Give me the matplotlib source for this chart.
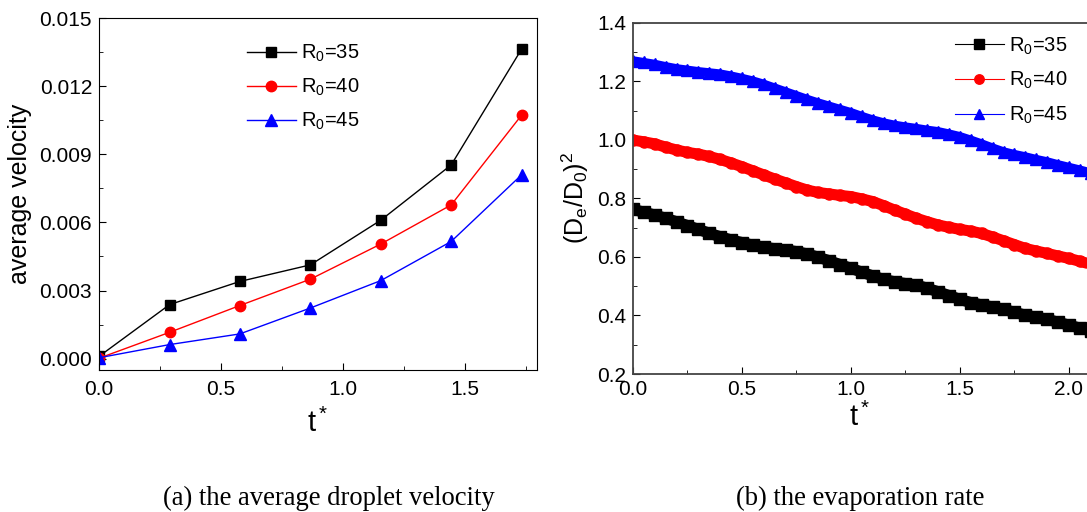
import matplotlib
matplotlib.use("Agg")
import matplotlib.pyplot as plt
from matplotlib.ticker import MultipleLocator, FormatStrFormatter

plt.rcParams['font.family'] = ['Liberation Sans', 'DejaVu Sans']
plt.rcParams['mathtext.fontset'] = 'custom'
plt.rcParams['mathtext.rm'] = 'Liberation Sans'
plt.rcParams['mathtext.it'] = 'Liberation Sans:italic'

# (a) average droplet velocity
t_vel = [0.0, 0.289, 0.577, 0.866, 1.155, 1.443, 1.732]
vel_35 = [0.0001, 0.00238, 0.0034, 0.00413, 0.0061, 0.00853, 0.01364]
vel_40 = [0.00002, 0.00116, 0.00234, 0.0035, 0.00505, 0.00677, 0.01073]
vel_45 = [0.00004, 0.00062, 0.00109, 0.00223, 0.00344, 0.00516, 0.0081]

# (b) evaporation rate, read every 0.05 of t*
t_evap = [0.00, 0.05, 0.10, 0.15, 0.20, 0.25, 0.30, 0.35, 0.40, 0.45,
          0.50, 0.55, 0.60, 0.65, 0.70, 0.75, 0.80, 0.85, 0.90, 0.95,
          1.00, 1.05, 1.10, 1.15, 1.20, 1.25, 1.30, 1.35, 1.40, 1.45,
          1.50, 1.55, 1.60, 1.65, 1.70, 1.75, 1.80, 1.85, 1.90, 1.95,
          2.00, 2.05, 2.10]
d2_35 = [0.762, 0.753, 0.743, 0.732, 0.720, 0.707, 0.694, 0.681, 0.669, 0.658,
         0.649, 0.640, 0.633, 0.628, 0.624, 0.618, 0.610, 0.599, 0.587, 0.574,
         0.561, 0.548, 0.535, 0.523, 0.515, 0.509, 0.504, 0.493, 0.481, 0.468,
         0.455, 0.444, 0.436, 0.429, 0.421, 0.411, 0.401, 0.394, 0.387, 0.377,
         0.367, 0.357, 0.347]
d2_40 = [0.999, 0.993, 0.986, 0.975, 0.965, 0.957, 0.951, 0.943, 0.933, 0.921,
         0.908, 0.894, 0.880, 0.866, 0.853, 0.840, 0.828, 0.820, 0.815, 0.810,
         0.806, 0.798, 0.789, 0.775, 0.760, 0.746, 0.732, 0.720, 0.709, 0.701,
         0.694, 0.688, 0.680, 0.668, 0.655, 0.642, 0.629, 0.620, 0.612, 0.603,
         0.595, 0.585, 0.575]
d2_45 = [1.270, 1.264, 1.258, 1.250, 1.243, 1.238, 1.233, 1.229, 1.225, 1.218,
         1.210, 1.201, 1.190, 1.177, 1.164, 1.151, 1.138, 1.126, 1.115, 1.104,
         1.093, 1.080, 1.068, 1.058, 1.050, 1.044, 1.039, 1.033, 1.028, 1.020,
         1.011, 0.999, 0.986, 0.972, 0.959, 0.950, 0.942, 0.933, 0.925, 0.915,
         0.906, 0.897, 0.887]

labels = ["R$_0$=35", "R$_0$=40", "R$_0$=45"]
colors = ["black", "red", "blue"]
markers = ["s", "o", "^"]

fig = plt.figure(figsize=(10.87, 5.12), dpi=100)
ax1 = fig.add_axes([0.0911, 0.2773, 0.403, 0.6875])
ax2 = fig.add_axes([0.5823, 0.2695, 0.4177, 0.6862])

# --- left panel ---
for ys, c, m, lab, ms in zip([vel_35, vel_40, vel_45], colors, markers, labels, [7, 7.5, 8]):
    ax1.plot(t_vel, ys, color=c, lw=1.0, marker=m, ms=ms, label=lab)

ax1.set_xlim(0, 1.795)
ax1.set_ylim(-0.0005, 0.015)
ax1.xaxis.set_major_locator(MultipleLocator(0.5))
ax1.xaxis.set_minor_locator(MultipleLocator(0.25))
ax1.yaxis.set_major_locator(MultipleLocator(0.003))
ax1.yaxis.set_minor_locator(MultipleLocator(0.0015))
ax1.xaxis.set_major_formatter(FormatStrFormatter('%.1f'))
ax1.yaxis.set_major_formatter(FormatStrFormatter('%.3f'))
ax1.set_ylabel("average velocity", fontsize=18, labelpad=5)
ax1.set_xlabel("t$^*$", fontsize=21, labelpad=7)
ax1.legend(loc="upper left", bbox_to_anchor=(0.297, 0.98), frameon=False,
           fontsize=14.5, handlelength=2.4, handletextpad=0.25, labelspacing=0.62)

# --- right panel ---
for ys, c, m, lab, ms, w in zip([d2_35, d2_40, d2_45], colors, markers, labels,
                                [8, 8, 8], [8, 8, 6.5]):
    ax2.plot(t_evap, ys, color=c, lw=w, solid_capstyle='butt')
    ax2.plot(t_evap, ys, color=c, lw=0.8, marker=m, ms=ms, mec=c, label=lab)

ax2.set_xlim(0, 2.083)
ax2.set_ylim(0.2, 1.4)
ax2.xaxis.set_major_locator(MultipleLocator(0.5))
ax2.xaxis.set_minor_locator(MultipleLocator(0.25))
ax2.yaxis.set_major_locator(MultipleLocator(0.2))
ax2.yaxis.set_minor_locator(MultipleLocator(0.1))
ax2.xaxis.set_major_formatter(FormatStrFormatter('%.1f'))
ax2.yaxis.set_major_formatter(FormatStrFormatter('%.1f'))
ax2.set_ylabel(r"(D$_\mathrm{e}$/D$_0$)$^2$", fontsize=18, labelpad=4)
ax2.set_xlabel("t$^*$", fontsize=21, labelpad=3)
ax2.spines['right'].set_visible(False)
for s in ax2.spines.values():
    s.set_color('#444444')
    s.set_linewidth(1.3)
ax2.legend(loc="upper left", bbox_to_anchor=(0.67, 1.015), frameon=False,
           fontsize=14.5, handlelength=2.4, handletextpad=0.25, labelspacing=0.66,
           markerscale=0.85)

for ax in (ax1, ax2):
    ax.tick_params(which='both', direction='in', top=False, right=False,
                   labelsize=15)
    ax.tick_params(which='major', length=5)
    ax.tick_params(which='minor', length=3)
ax1.tick_params(axis='x', pad=7)
ax1.tick_params(axis='y', pad=5)
ax2.tick_params(axis='x', pad=4)
ax2.tick_params(axis='y', pad=5)

fig.text(329 / 1087, 1 - 498 / 512, "(a) the average droplet velocity",
         family='Liberation Serif', fontsize=19.2, ha='center', va='center')
fig.text(860 / 1087, 1 - 498 / 512, "(b) the evaporation rate",
         family='Liberation Serif', fontsize=19.2, ha='center', va='center')

fig.savefig("out.png", dpi=100)
